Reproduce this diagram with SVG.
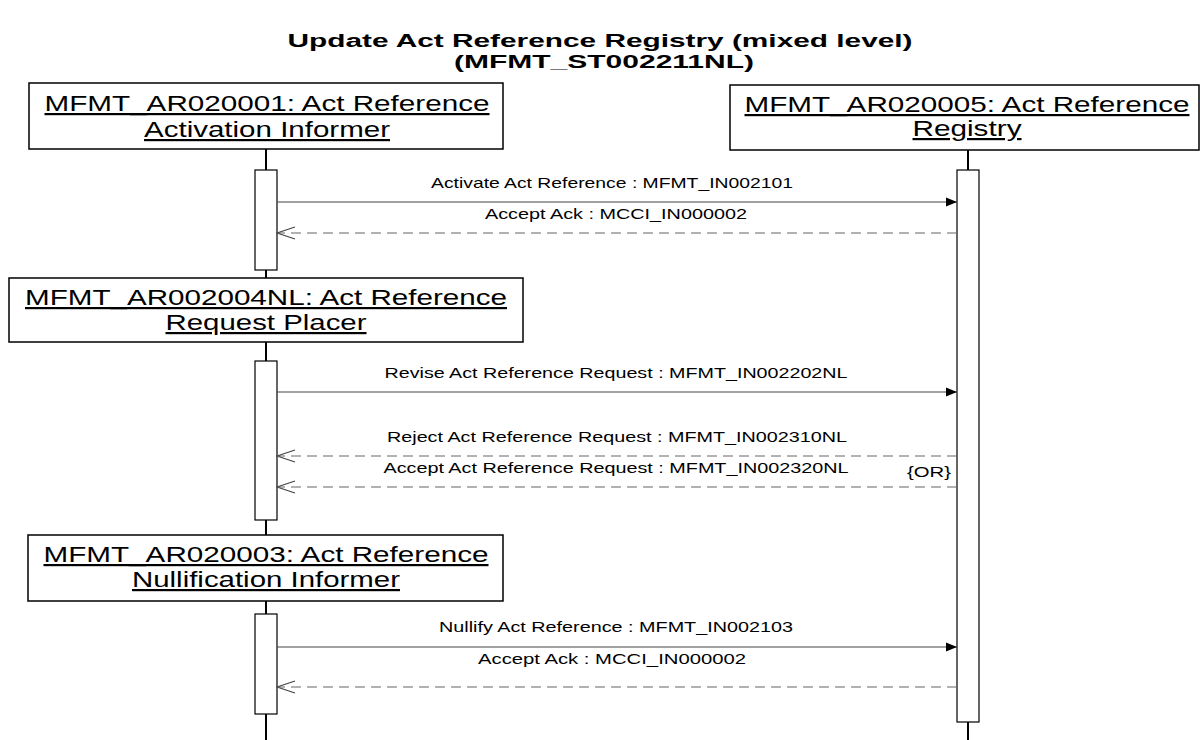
<svg xmlns="http://www.w3.org/2000/svg" width="1200" height="740" viewBox="0 0 1200 740">
<style>
text{font-family:"Liberation Sans",Arial,sans-serif;fill:#000}
.title{font-size:18px;font-weight:bold}
.role{font-size:22px;text-decoration:underline}
.msg{font-size:15px}
.box{fill:#fff;stroke:#000;stroke-width:1.5}
.act{fill:#fff;stroke:#000;stroke-width:1.2}
.life{stroke:#000;stroke-width:2}
.call{stroke:#444;stroke-width:1.2;fill:none}
.reply{stroke:#666;stroke-width:1.2;fill:none;stroke-dasharray:10 6}
</style>
<defs>
<marker id="solid" viewBox="0 0 12 10" refX="12" refY="5" markerWidth="11" markerHeight="10" markerUnits="userSpaceOnUse" orient="auto">
<path d="M0,0 L12,5 L0,10 Z" fill="#000"/>
</marker>
<marker id="open" viewBox="0 0 20 14" refX="19" refY="7" markerWidth="20" markerHeight="14" markerUnits="userSpaceOnUse" orient="auto">
<path d="M1,1 L19,7 L1,13" fill="none" stroke="#444" stroke-width="1.2"/>
</marker>
</defs>
<rect width="1200" height="740" fill="#fff"/>
<g id="title" text-anchor="middle">
<text class="title" x="600" y="47" textLength="625" lengthAdjust="spacingAndGlyphs">Update Act Reference Registry (mixed level)</text>
<text class="title" x="604" y="68" textLength="300" lengthAdjust="spacingAndGlyphs">(MFMT_ST002211NL)</text>
</g>
<g id="lifelines">
<line class="life" x1="266" y1="149" x2="266" y2="278"/>
<line class="life" x1="266" y1="342" x2="266" y2="535"/>
<line class="life" x1="266" y1="601" x2="266" y2="740"/>
<line class="life" x1="968" y1="150" x2="968" y2="740"/>
</g>
<g id="activation-informer" text-anchor="middle">
<rect class="box" x="29" y="83" width="474" height="66"/>
<text class="role" x="267" y="111" textLength="445" lengthAdjust="spacingAndGlyphs">MFMT_AR020001: Act Reference</text>
<text class="role" x="267" y="137" textLength="246" lengthAdjust="spacingAndGlyphs">Activation Informer</text>
<rect class="act" x="255" y="170" width="22" height="100"/>
</g>
<g id="registry" text-anchor="middle">
<rect class="box" x="730" y="85" width="469" height="65"/>
<text class="role" x="967" y="112" textLength="445" lengthAdjust="spacingAndGlyphs">MFMT_AR020005: Act Reference</text>
<text class="role" x="967" y="136" textLength="109" lengthAdjust="spacingAndGlyphs">Registry</text>
<rect class="act" x="957" y="170" width="22" height="552"/>
</g>
<g id="request-placer" text-anchor="middle">
<rect class="box" x="9" y="278" width="514" height="64"/>
<text class="role" x="266" y="305" textLength="482" lengthAdjust="spacingAndGlyphs">MFMT_AR002004NL: Act Reference</text>
<text class="role" x="266" y="330" textLength="201" lengthAdjust="spacingAndGlyphs">Request Placer</text>
<rect class="act" x="255" y="361" width="22" height="159"/>
</g>
<g id="nullification-informer" text-anchor="middle">
<rect class="box" x="28" y="535" width="475" height="66"/>
<text class="role" x="266" y="562" textLength="445" lengthAdjust="spacingAndGlyphs">MFMT_AR020003: Act Reference</text>
<text class="role" x="266" y="587" textLength="268" lengthAdjust="spacingAndGlyphs">Nullification Informer</text>
<rect class="act" x="255" y="614" width="22" height="100"/>
</g>
<g id="connectors">
<line class="call" x1="277" y1="202" x2="957" y2="202" marker-end="url(#solid)"/>
<line class="reply" x1="957" y1="233" x2="277" y2="233" marker-end="url(#open)"/>
<line class="call" x1="277" y1="392" x2="957" y2="392" marker-end="url(#solid)"/>
<line class="reply" x1="957" y1="456" x2="277" y2="456" marker-end="url(#open)"/>
<line class="reply" x1="957" y1="487" x2="277" y2="487" marker-end="url(#open)"/>
<line class="call" x1="277" y1="647" x2="957" y2="647" marker-end="url(#solid)"/>
<line class="reply" x1="957" y1="687" x2="277" y2="687" marker-end="url(#open)"/>
</g>
<g id="labels" class="msg" text-anchor="middle">
<text class="msg" x="612" y="188" textLength="362" lengthAdjust="spacingAndGlyphs">Activate Act Reference : MFMT_IN002101</text>
<text class="msg" x="616" y="219" textLength="262" lengthAdjust="spacingAndGlyphs">Accept Ack : MCCI_IN000002</text>
<text class="msg" x="616" y="378" textLength="463" lengthAdjust="spacingAndGlyphs">Revise Act Reference Request : MFMT_IN002202NL</text>
<text class="msg" x="617" y="442" textLength="460" lengthAdjust="spacingAndGlyphs">Reject Act Reference Request : MFMT_IN002310NL</text>
<text class="msg" x="616" y="473" textLength="465" lengthAdjust="spacingAndGlyphs">Accept Act Reference Request : MFMT_IN002320NL</text>
<text class="msg" x="929" y="477" textLength="44" lengthAdjust="spacingAndGlyphs">{OR}</text>
<text class="msg" x="616" y="632" textLength="354" lengthAdjust="spacingAndGlyphs">Nullify Act Reference : MFMT_IN002103</text>
<text class="msg" x="612" y="664" textLength="268" lengthAdjust="spacingAndGlyphs">Accept Ack : MCCI_IN000002</text>
</g>
</svg>
